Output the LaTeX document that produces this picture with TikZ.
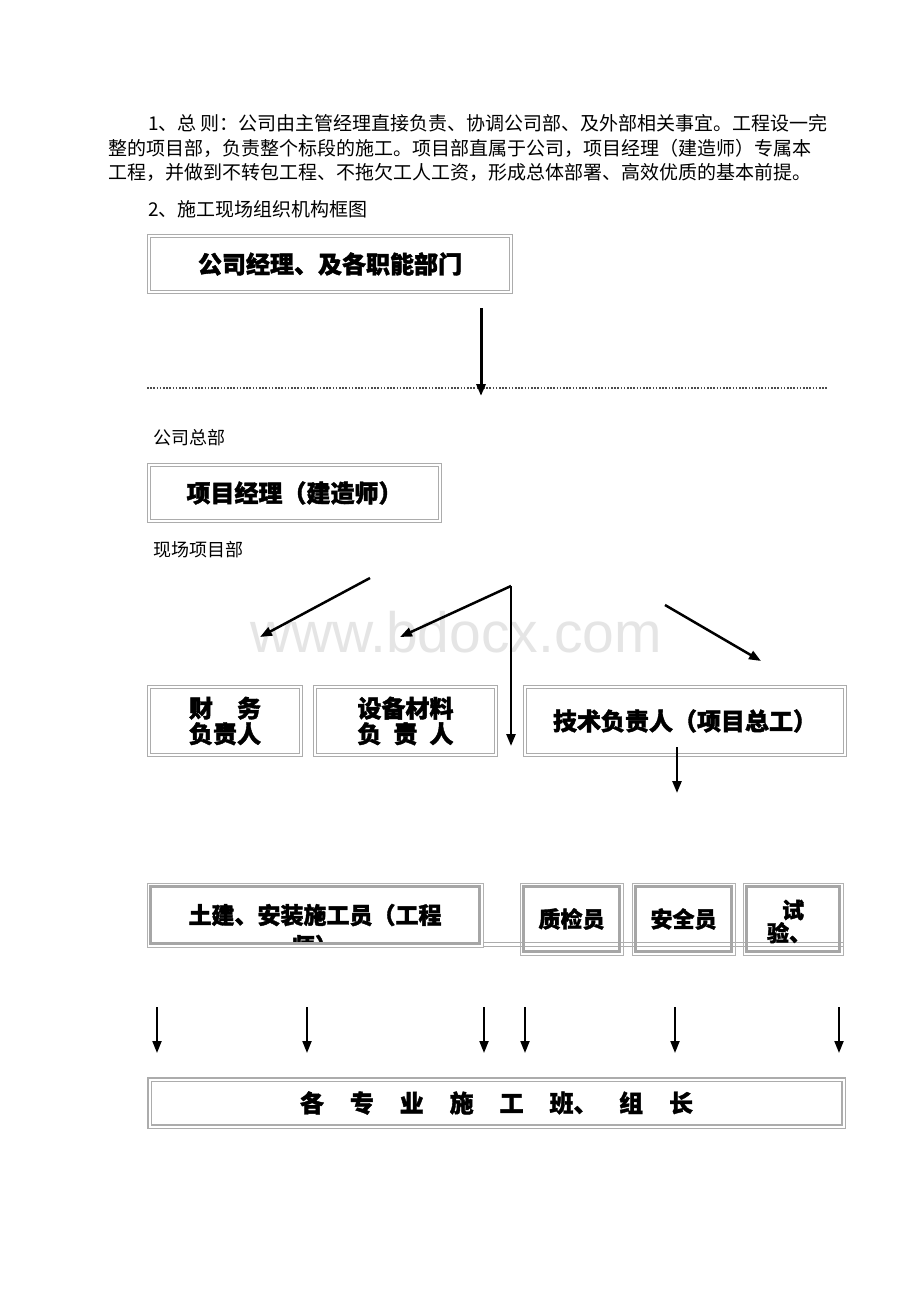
\documentclass[tikz,border=0pt]{standalone}
\usepackage{fontspec}
\setmainfont{Noto Sans CJK SC}[BoldFeatures={FakeBold=1.6}]
\newfontfamily\wmfont{Liberation Sans}
\usetikzlibrary{arrows.meta,fit}
\newcommand{\bzgap}{\hspace{1.08em}}

\begin{document}
\begin{tikzpicture}[x=1pt,y=-1pt,
  dbox/.style={draw=gray!65,double=white,double distance=2pt,line width=1.1pt,inner sep=0pt,align=center,
    font=\fontsize{24}{25.5}\selectfont\bfseries},
  thickbox/.style={draw=gray!70,line width=3pt,inner sep=0pt,font=\fontsize{22}{24}\selectfont\bfseries},
  rim/.style={draw=gray!60,line width=0.8pt,inner sep=2.5pt},
  arr/.style={-{Triangle[length=12pt,width=9pt]},line width=2pt},
  body/.style={anchor=base west,inner sep=0pt,font=\fontsize{19}{22}\selectfont},
  tag/.style={anchor=west,inner sep=0pt,font=\fontsize{18}{20}\selectfont}]
\useasboundingbox[fill=white] (0,0) rectangle (920,1302);
\node[anchor=base,inner sep=0pt,text=gray!20,font=\wmfont\fontsize{57}{60}\selectfont] (wm) at (456,652) {www.bdocx.com};

\node[body] (p1) at (148,130.5) {1、总 则：公司由主管经理直接负责、协调公司部、及外部相关事宜。工程设一完};
\node[body] (p2) at (108,155.5) {整的项目部，负责整个标段的施工。项目部直属于公司，项目经理（建造师）专属本};
\node[body] (p3) at (108,179.5) {工程，并做到不转包工程、不拖欠工人工资，形成总体部署、高效优质的基本前提。};
\node[body] (p4) at (148,216.5) {2、施工现场组织机构框图};

\node[dbox,minimum width=362,minimum height=56] (gs) at (330,264) {公司经理、及各职能部门};
\coordinate (t1) at (481,308);
\coordinate (t2) at (481,396);
\coordinate (dl) at (147,388);
\coordinate (dr) at (828,388);
\draw[gray!60!black,line width=1.6pt,dash pattern=on 1.6pt off 1.6pt] (dl) -- (dr);
\draw[arr,line width=3pt] (t1) -- (t2);

\node[tag] (zb) at (153,438) {公司总部};
\node[dbox,minimum width=291,minimum height=56] (jl) at (294.5,493) {项目经理（建造师）};
\node[tag] (xc) at (153,550) {现场项目部};

\coordinate (a1) at (370,578);
\coordinate (a2) at (260,637);
\coordinate (b0) at (511,586);
\coordinate (b1) at (400,637);
\coordinate (b2) at (511,746);
\coordinate (c1) at (665,605);
\coordinate (c2) at (761,661);
\draw[arr,line width=2.5pt] (a1) -- (a2);
\draw[arr,line width=2.5pt] (b0) -- (b1);
\draw[arr,line width=2.5pt] (b0) -- (b2);
\draw[arr,line width=2.5pt] (c1) -- (c2);

\node[dbox,minimum width=152,minimum height=68] (cw) at (225,721) {财　务\\负责人};
\node[dbox,minimum width=181,minimum height=68] (sb) at (405.5,721) {设备材料\\负\enspace 责\enspace 人};
\node[dbox,minimum width=320,minimum height=68] (js) at (685,721) {技术负责人（项目总工）};
\coordinate (j1) at (677,747);
\coordinate (j2) at (677,793);
\draw[arr,line width=2.5pt] (j1) -- (j2);

\coordinate (h1) at (483,942.5);
\coordinate (h2) at (843,942.5);
\coordinate (h3) at (483,946.5);
\coordinate (h4) at (843,946.5);
\draw[gray!65,line width=1.4pt] (h1) -- (h2) (h3) -- (h4);

\node[thickbox,minimum width=328.2,minimum height=56.2,
  path picture={\node[align=center,font=\fontsize{23}{31}\selectfont\bfseries] (tjt) at ([yshift=-15.5pt]path picture bounding box.center) {土建、安装施工员（工程\\师）};}] (tj) at (315,915) {};
\node[thickbox,minimum width=95.2,minimum height=64.2] (zj) at (571.5,919) {质检员};
\node[thickbox,minimum width=95.2,minimum height=64.2] (aq) at (683.5,919) {安全员};
\node[thickbox,minimum width=92.2,minimum height=64.2] (sy) at (793,919) {};
\node[align=left,inner sep=0pt,font=\fontsize{22}{23}\selectfont\bfseries] (syt) at (789,921.5) {\hspace*{15pt}试\\验、};
\foreach \n in {tj,zj,aq,sy}
  \node[rim,fit=(\n)] (\n r) {};

\foreach \x [count=\i] in {157,307,484,525,675,839}{
  \coordinate (u\i) at (\x,1007);
  \coordinate (d\i) at (\x,1053);
  \draw[arr] (u\i) -- (d\i);
}

\node[dbox,line width=1.6pt,minimum width=694,minimum height=47] (bz) at (496.5,1103) {各\bzgap 专\bzgap 业\bzgap 施\bzgap 工\bzgap 班、\hspace{0.9em}组\bzgap 长};
\end{tikzpicture}
\end{document}
